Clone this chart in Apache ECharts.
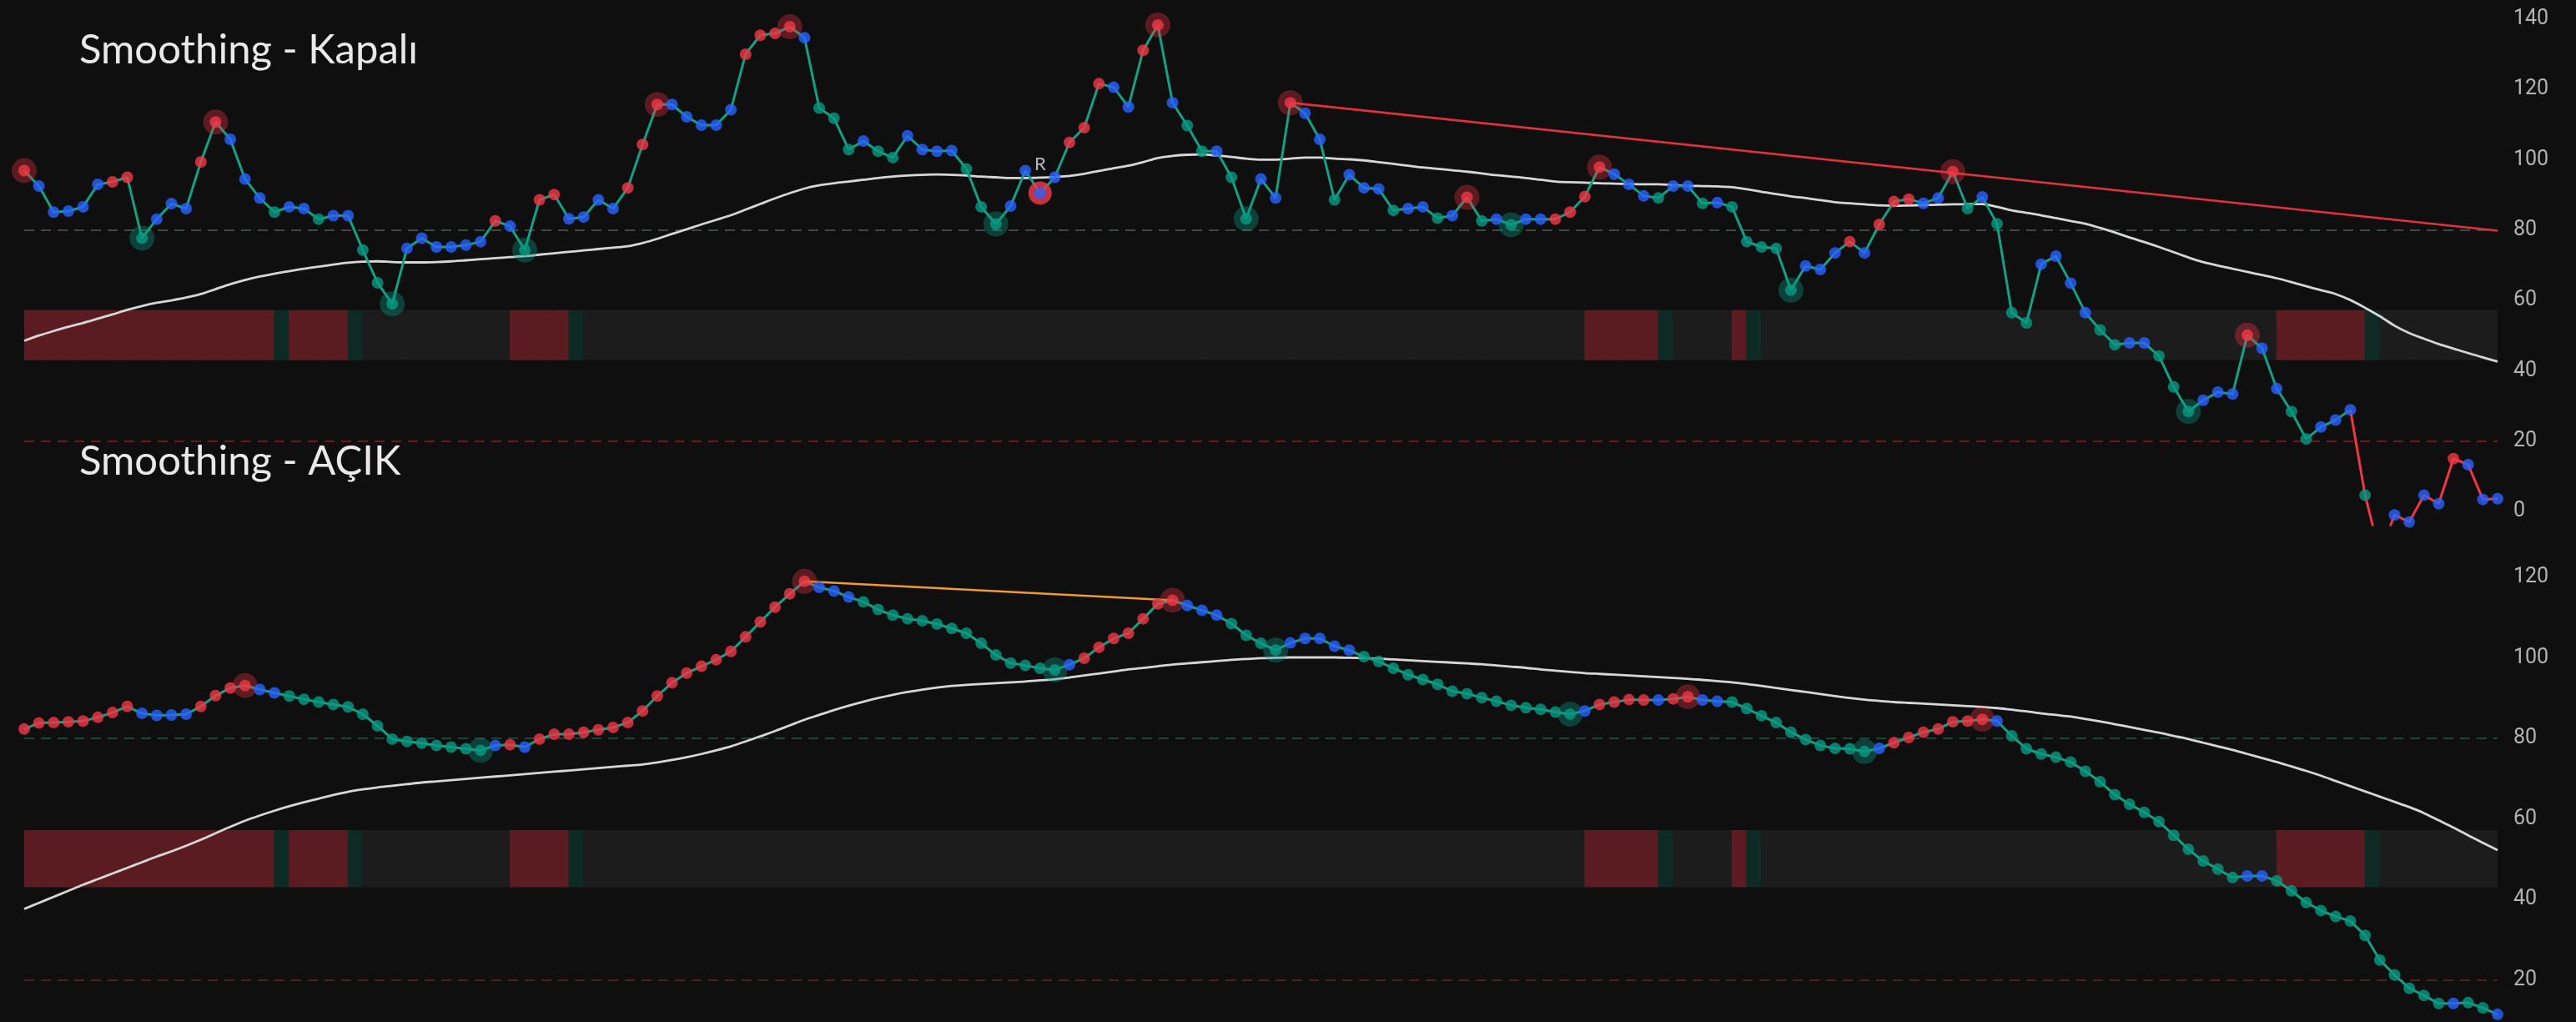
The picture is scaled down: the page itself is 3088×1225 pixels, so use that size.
<!DOCTYPE html>
<html><head><meta charset="utf-8">
<script src="https://cdn.jsdelivr.net/npm/echarts@6/dist/echarts.min.js"></script>
<style>html,body{margin:0;padding:0;background:#0f0f0f;}#c{width:3088px;height:1225px;}</style>
</head><body><div id="c"></div>
<script>
// ---------- DATA: panel 1 "Smoothing - Kapalı" ----------
const kapaliValues = [
 96.9, 92.5, 85.1, 85.4, 86.6, 93.0, 93.7, 95.0, 77.7, 83.1,
 87.5, 86.1, 99.4,110.7,105.8, 94.5, 89.1, 85.1, 86.6, 86.1,
 83.1, 84.1, 84.1, 74.3, 65.0, 59.0, 74.8, 77.7, 75.2, 75.2,
 75.7, 76.7, 82.6, 81.1, 74.3, 88.6, 90.1, 83.2, 83.7, 88.6,
 86.1, 92.0,104.3,115.7,115.7,112.2,109.8,109.8,114.2,130.0,
135.4,135.9,137.8,134.7,114.7,111.8,102.9,105.3,102.4,100.6,
106.8,102.9,102.4,102.6, 97.4, 86.6, 81.7, 86.8, 96.9, 90.5,
 95.0,104.9,109.1,121.6,120.6,115.0,131.1,138.3,116.2,109.7,
102.4,102.4, 95.0, 83.2, 94.5, 89.1,116.2,113.2,105.8, 88.6,
 95.7, 92.0, 91.7, 85.6, 86.1, 86.6, 83.4, 84.1, 89.3, 82.6,
 83.1, 81.5, 83.1, 83.1, 83.1, 85.1, 89.5, 97.9, 95.9, 93.0,
 89.7, 89.1, 92.5, 92.5, 87.6, 87.8, 86.6, 76.7, 75.2, 74.8,
 62.9, 69.8, 68.8, 73.5, 76.7, 73.5, 81.6, 88.1, 88.8, 87.6,
 89.1, 96.6, 86.1, 89.4, 81.8, 56.5, 53.6, 70.3, 72.6, 64.9,
 56.5, 51.6, 47.4, 47.9, 47.9, 44.2, 35.4, 28.4, 31.6, 33.9,
 33.4, 50.1, 46.4, 34.9, 28.4, 20.6, 24.0, 26.0, 28.9,  4.6,
-12.0, -1.0, -3.0,  4.6,  2.2, 15.0, 13.3,  3.4,  3.6
];
const kapaliColors = ("RBBBBBRRGB"+"BBRRBBBGBB"+"GBBGGGBBBB"+"BBRBGRRBBB"+"BRRRBBBBBR"+
  "RRRBGGGBGG"+"BBBBGGGBBB"+"BRRRBBRRBG"+"GBGGBBRBBG"+"BBBGBBGBRG"+"BGBBRRRRBB"+
  "BGBBGBGGGG"+"GBBBRBRRRB"+"BRGBGGGBBB"+"BGGBBGGGBB"+"BRBBGGBBBG"+"BBBBBRBBB").split('');
const kapaliPivots = [0,8,13,25,34,43,52,66,77,83,86,98,101,107,120,131,147,151];
const kapaliRIndex = 69;
const kapaliRedLineFrom = 158;
const kapaliSmooth = [
 48.5,50.0,51.3,52.5,53.6,54.8,56.0,57.3,58.4,59.3,
 60.0,60.8,61.8,63.2,64.6,65.8,66.8,67.6,68.3,69.0,
 69.6,70.2,70.7,71.0,71.1,70.9,70.8,70.8,70.9,71.1,
 71.4,71.7,72.0,72.3,72.6,73.0,73.4,73.8,74.2,74.6,
 75.0,75.4,76.3,77.5,78.9,80.2,81.6,82.9,84.2,85.8,
 87.4,89.0,90.5,91.8,92.7,93.3,93.8,94.3,94.8,95.2,
 95.5,95.7,95.8,95.7,95.5,95.2,95.0,94.8,94.8,94.9,
 95.1,95.4,96.0,96.8,97.6,98.3,99.3,100.5,101.1,101.4,
 101.5,101.2,100.8,100.3,100.0,100.0,100.3,100.6,100.6,100.3,
 100.1,99.8,99.3,98.8,98.3,97.8,97.4,97.0,96.6,96.1,
 95.6,95.2,94.8,94.3,93.8,93.6,93.5,93.3,93.2,93.1,
 93.0,93.0,92.8,92.6,92.5,92.4,92.2,91.6,90.9,90.2,
 89.6,89.1,88.5,87.9,87.6,87.3,87.0,86.9,87.0,87.1,
 87.2,87.3,87.4,87.4,86.6,85.6,84.9,84.2,83.4,82.6,
 81.8,80.6,79.3,77.9,76.6,75.2,73.7,72.2,70.9,69.9,
 69.0,68.1,67.2,66.3,65.2,64.0,62.9,61.8,60.1,57.9,
 55.5,52.8,50.7,49.1,47.6,46.3,45.0,43.8,42.6
];
const kapaliTrend = [[86, 116.2], [168, 79.8]];
const kapaliTicks = [0, 20, 40, 60, 80, 100, 120, 140];

// ---------- DATA: panel 2 "Smoothing - AÇIK" ----------
const acikValues = [
 82.3, 83.8, 83.9, 84.1, 84.3, 85.2, 86.4, 87.9, 86.2, 85.7,
 85.8, 86.0, 87.9, 90.6, 92.5, 93.1, 92.1, 91.3, 90.5, 89.7,
 89.0, 88.4, 87.8, 86.0, 83.1, 79.8, 79.2, 78.8, 78.2, 77.8,
 77.4, 77.0, 78.2, 78.4, 77.8, 79.8, 81.0, 81.0, 81.5, 82.1,
 82.7, 83.9, 86.8, 90.5, 93.8, 96.2, 97.9, 99.5,101.6,105.2,
108.9,112.6,115.9,119.0,117.5,116.6,115.1,113.9,112.0,110.6,
109.7,109.2,108.4,107.3,106.1,103.6,100.7, 98.7, 98.1, 97.4,
 97.0, 98.3, 99.9,102.6,104.8,106.1,109.7,113.4,114.3,113.0,
111.8,110.6,108.5,105.6,103.6,101.9,103.7,104.8,104.8,102.9,
101.9,100.3, 99.1, 97.4, 95.8, 94.6, 93.4, 91.7, 91.1, 90.1,
 89.2, 88.2, 87.6, 87.2, 86.5, 86.0, 86.8, 88.4, 89.0, 89.6,
 89.5, 89.5, 89.8, 90.3, 89.5, 89.2, 89.0, 87.4, 85.6, 83.9,
 81.5, 79.7, 78.2, 77.5, 77.4, 76.7, 77.5, 78.9, 80.2, 81.5,
 82.3, 84.1, 84.3, 84.7, 84.3, 80.6, 77.4, 76.1, 75.3, 74.1,
 71.8, 69.2, 66.0, 63.6, 61.6, 59.3, 55.9, 52.4, 49.5, 47.5,
 45.4, 45.8, 45.8, 44.6, 42.1, 39.2, 37.2, 35.7, 34.6, 31.0,
 24.9, 21.2, 17.9, 16.1, 14.1, 14.1, 14.3, 13.0, 11.4
];
const acikColors = ("RRRRRRRRBB"+"BBRRRRBBGG"+"GGGGGGGGGG"+"GGBRBRRRRR"+"RRRRRRRRRR"+
  "RRRRBBBGGG"+"GGGGGGGGGG"+"GBRRRRRRRB"+"BBGGGGBBBB"+"BGGGGGGGGG"+"GGGGGGBRRR"+
  "RBRRBBGGGG"+"GGGGGGBRRR"+"RRRRBGGGGG"+"GGGGGGGGGG"+"GBBGGGGGGG"+"GGGGGBGGB").split('');
const acikPivots = [15,31,53,70,78,85,105,113,125,133];
const acikSmooth = [
 37.6,39.1,40.6,42.1,43.6,45.0,46.4,47.8,49.2,50.6,
 51.9,53.3,54.8,56.4,58.0,59.5,60.8,62.0,63.1,64.1,
 65.0,65.9,66.7,67.3,67.8,68.2,68.6,69.0,69.3,69.6,
 69.9,70.2,70.5,70.8,71.1,71.4,71.7,72.0,72.3,72.6,
 72.9,73.2,73.5,74.0,74.6,75.3,76.1,77.0,78.0,79.2,
 80.5,81.8,83.2,84.6,85.8,87.0,88.1,89.1,90.0,90.8,
 91.5,92.1,92.6,93.0,93.3,93.5,93.7,93.9,94.1,94.4,
 94.7,95.1,95.6,96.1,96.6,97.1,97.5,97.9,98.3,98.6,
 98.9,99.2,99.5,99.7,99.9,100.0,100.1,100.1,100.1,100.1,
 100.0,99.9,99.8,99.6,99.4,99.2,99.0,98.8,98.6,98.4,
 98.1,97.8,97.5,97.1,96.8,96.5,96.2,96.0,95.8,95.6,
 95.4,95.2,95.0,94.8,94.5,94.2,93.9,93.5,93.0,92.5,
 92.0,91.5,91.0,90.5,90.0,89.6,89.3,89.0,88.8,88.6,
 88.4,88.2,88.0,87.8,87.5,87.1,86.7,86.2,85.8,85.4,
 84.8,84.2,83.5,82.8,82.1,81.4,80.6,79.8,78.9,78.0,
 77.1,76.1,75.1,74.1,73.0,71.9,70.7,69.4,68.1,66.8,
 65.5,64.2,62.9,61.4,59.6,57.8,55.9,54.0,52.2
];
const acikTrend = [[53, 119.0], [78, 114.3]];
const acikTicks = [20, 40, 60, 80, 100, 120];

// ---------- shared: regime strip (interval index ranges) ----------
const bandRedRanges = [[0,16],[18,21],[33,36],[106,110],[116,116],[153,158]];
const bandIntervals = 168;
const bandLow = 43, bandHigh = 57.2;
const levelLines = [80, 20];
const titles = ['Smoothing - Kapalı', 'Smoothing - AÇIK'];

// ---------- build ----------
const bandStates = new Array(bandIntervals).fill(0);
bandRedRanges.forEach(([a, b]) => { for (let j = a; j <= b; j++) bandStates[j] = 1; if (b + 1 < bandIntervals) bandStates[b + 1] = 2; });

const COL = { R: '#f23645', B: '#2962ff', G: '#089981' };
const HALO = { R: 'rgba(242,54,69,0.42)', G: 'rgba(8,153,129,0.45)', B: 'rgba(41,98,255,0.42)' };
const BANDCOL = ['#1c1c1c', '#5a1c21', '#0e2a25'];
const FONT = 'Lato, "Noto Sans", sans-serif';

const idx = kapaliValues.map((_, i) => i);
const bidx = bandStates.map((_, i) => i);

function panel(p, values, colors, pivots, smooth, trend, trendColor, lvlColors, redFrom) {
  const xL = p * 2, xB = p * 2 + 1, y = p;
  const s = [];
  s.push({ type: 'bar', xAxisIndex: xB, yAxisIndex: y, stack: 'band' + p, barWidth: 18.6, silent: true, z: 1,
    data: bandStates.map(() => bandLow), itemStyle: { color: 'rgba(0,0,0,0)' } });
  s.push({ type: 'bar', xAxisIndex: xB, yAxisIndex: y, stack: 'band' + p, barWidth: 18.6, silent: true, z: 1,
    data: bandStates.map(st => ({ value: bandHigh - bandLow, itemStyle: { color: BANDCOL[st] } })) });
  s.push({ type: 'line', xAxisIndex: xL, yAxisIndex: y, data: smooth, smooth: 0.3, showSymbol: false, silent: true, z: 3,
    lineStyle: { color: '#d6d6d6', width: 2.8 },
    markLine: { symbol: 'none', silent: true, label: { show: false }, z: 2,
      data: levelLines.map((lv, k) => ({ yAxis: lv, lineStyle: { color: lvlColors[k], width: 2, type: [12, 8] } })) } });
  const endA = redFrom == null ? values.length - 1 : redFrom;
  s.push({ type: 'line', xAxisIndex: xL, yAxisIndex: y, showSymbol: false, silent: true, z: 4,
    data: values.map((v, i) => i <= endA ? v : null), lineStyle: { color: '#15a083', width: 3 },
    markLine: { symbol: 'none', silent: true, label: { show: false },
      lineStyle: { color: trendColor, width: 2.6, type: 'solid' },
      data: [[{ coord: trend[0] }, { coord: trend[1] }]] } });
  if (redFrom != null) {
    s.push({ type: 'line', xAxisIndex: xL, yAxisIndex: y, showSymbol: false, silent: true, z: 4,
      data: values.map((v, i) => i >= redFrom ? v : null), lineStyle: { color: '#f23645', width: 3 } });
  }
  s.push({ type: 'scatter', xAxisIndex: xL, yAxisIndex: y, symbolSize: 30, silent: true, z: 5,
    data: pivots.map(i => ({ value: [i, values[i]], itemStyle: { color: HALO[colors[i]] } })) });
  s.push({ type: 'scatter', xAxisIndex: xL, yAxisIndex: y, symbolSize: 14, silent: true, z: 6,
    data: values.map((v, i) => ({ value: [i, v], itemStyle: { color: COL[colors[i]] } })) });
  return s;
}

const series = [].concat(
  panel(0, kapaliValues, kapaliColors, kapaliPivots, kapaliSmooth, kapaliTrend, '#e0313f',
        ['rgba(105,120,114,0.55)', 'rgba(150,38,48,0.6)'], kapaliRedLineFrom),
  panel(1, acikValues, acikColors, acikPivots, acikSmooth, acikTrend, '#f29b2c',
        ['rgba(25,95,78,0.7)', 'rgba(140,36,46,0.6)'], null)
);
// reversal marker "R"
series.push({ type: 'scatter', xAxisIndex: 0, yAxisIndex: 0, symbolSize: 28, silent: true, z: 5,
  data: [{ value: [kapaliRIndex, kapaliValues[kapaliRIndex]] }], itemStyle: { color: '#f5384a' },
  label: { show: true, formatter: 'R', position: 'top', distance: 10, color: '#e2e2e2', fontSize: 22, fontFamily: FONT } });

const gridLeft = 29, gridRight = 94;
const yLabel = { color: '#b4b4b4', fontSize: 25, fontFamily: 'Roboto, sans-serif', margin: 19 };

const option = {
  backgroundColor: '#0f0f0f',
  animation: false,
  grid: [
    { left: gridLeft, right: gridRight, top: 22.8, height: 606.2 },
    { left: gridLeft, right: gridRight, top: 630, height: 595 }
  ],
  xAxis: [
    { type: 'category', gridIndex: 0, data: idx, boundaryGap: false, show: false },
    { type: 'category', gridIndex: 0, data: bidx, boundaryGap: true, show: false },
    { type: 'category', gridIndex: 1, data: idx, boundaryGap: false, show: false },
    { type: 'category', gridIndex: 1, data: bidx, boundaryGap: true, show: false }
  ],
  yAxis: [
    { type: 'value', gridIndex: 0, position: 'right', min: -3.8, max: 140,
      axisLine: { show: false }, axisTick: { show: false }, splitLine: { show: false },
      axisLabel: Object.assign({ customValues: kapaliTicks }, yLabel) },
    { type: 'value', gridIndex: 1, position: 'right', min: 9.5, max: 132.85,
      axisLine: { show: false }, axisTick: { show: false }, splitLine: { show: false },
      axisLabel: Object.assign({ customValues: acikTicks }, yLabel) }
  ],
  graphic: [
    { type: 'text', left: 95, top: 36, z: 100, style: { text: titles[0], fill: '#e9e9e9', font: '49px ' + FONT } },
    { type: 'text', left: 95, top: 529, z: 100, style: { text: titles[1], fill: '#e9e9e9', font: '49px ' + FONT } }
  ],
  series: series
};

const chart = echarts.init(document.getElementById('c'), null, { renderer: 'canvas', width: 3088, height: 1225 });
chart.setOption(option);
</script>
</body></html>
